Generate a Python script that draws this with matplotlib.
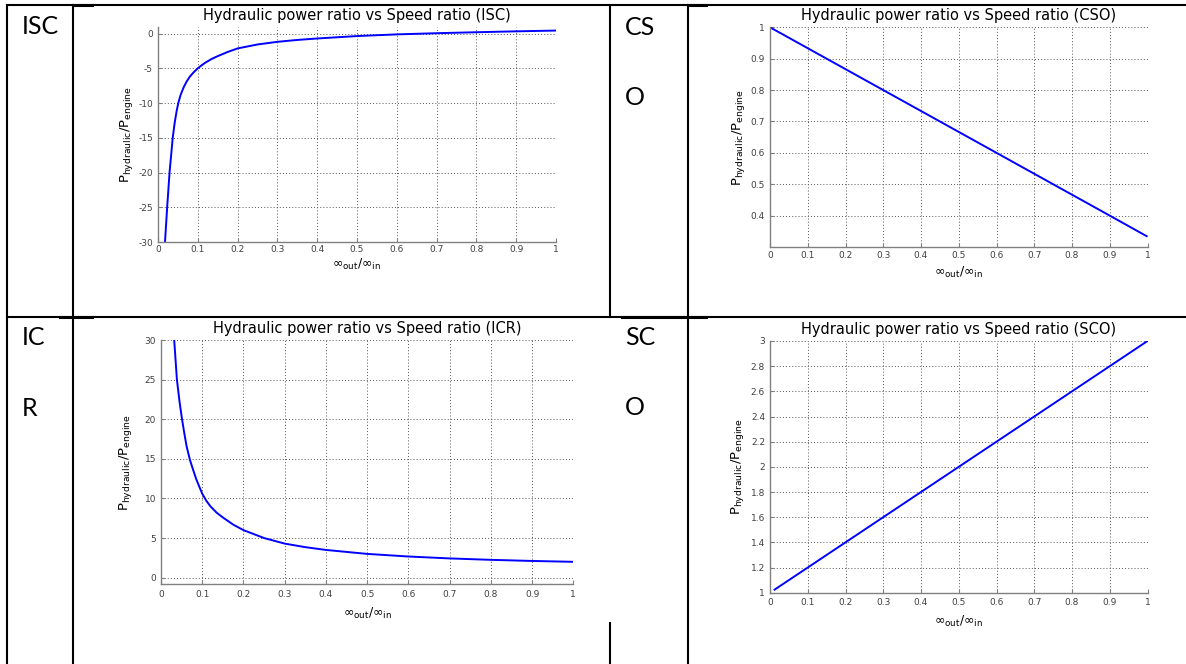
import numpy as np
import matplotlib.pyplot as plt
from matplotlib.lines import Line2D

plt.rcParams['axes.unicode_minus'] = False
plt.rcParams['mathtext.fontset'] = 'dejavusans'

W, H = 1186, 664

# Hydraulic power ratio curves, one per configuration
isc_x = [0.0176, 0.023, 0.029, 0.037, 0.042, 0.047, 0.051, 0.057, 0.064, 0.072, 0.08,
         0.09, 0.1, 0.11, 0.12, 0.135, 0.15, 0.175, 0.2, 0.25, 0.3, 0.35, 0.4,
         0.5, 0.6, 0.7, 0.8, 0.9, 1.0]
isc_y = [-30, -25, -20, -15, -12.8, -11.1, -10, -8.8, -7.8, -6.9, -6.2,
         -5.55, -5, -4.55, -4.15, -3.65, -3.25, -2.65, -2.14, -1.57, -1.19, -0.92, -0.71,
         -0.36, -0.12, 0.05, 0.19, 0.32, 0.43]

cso_x = [0.0, 0.3, 0.6, 0.9, 1.0]
cso_y = [1.0, 0.8, 0.6, 0.4, 0.333]

icr_x = [0.032, 0.0386, 0.045, 0.051, 0.056, 0.062, 0.07, 0.078, 0.085, 0.092, 0.1,
         0.11, 0.12, 0.135, 0.15, 0.175, 0.2, 0.25, 0.3, 0.35, 0.4,
         0.5, 0.6, 0.7, 0.8, 0.9, 1.0]
icr_y = [30, 25, 22.2, 20, 18.4, 16.6, 14.9, 13.6, 12.5, 11.6, 10.6,
         9.7, 9.0, 8.2, 7.6, 6.7, 6.0, 5.0, 4.3, 3.85, 3.5,
         3.0, 2.67, 2.43, 2.25, 2.11, 2.0]

sco_x = [0.01, 0.2, 0.5, 0.8, 1.0]
sco_y = [1.02, 1.4, 2.0, 2.6, 3.0]

# tick labels
x_ticks = [0, 0.1, 0.2, 0.3, 0.4, 0.5, 0.6, 0.7, 0.8, 0.9, 1]
x_tick_labels = ['0', '0.1', '0.2', '0.3', '0.4', '0.5', '0.6', '0.7', '0.8', '0.9', '1']
isc_ticks = [-30, -25, -20, -15, -10, -5, 0]
isc_labels = ['-30', '-25', '-20', '-15', '-10', '-5', '0']
cso_ticks = [0.4, 0.5, 0.6, 0.7, 0.8, 0.9, 1.0]
cso_labels = ['0.4', '0.5', '0.6', '0.7', '0.8', '0.9', '1']
icr_ticks = [0, 5, 10, 15, 20, 25, 30]
icr_labels = ['0', '5', '10', '15', '20', '25', '30']
sco_ticks = [1, 1.2, 1.4, 1.6, 1.8, 2, 2.2, 2.4, 2.6, 2.8, 3]
sco_labels = ['1', '1.2', '1.4', '1.6', '1.8', '2', '2.2', '2.4', '2.6', '2.8', '3']

cell_labels = ['ISC', 'CS', 'O', 'IC', 'R', 'SC', 'O']


def fx(px):
    return px / W


def fy(py):
    return 1 - py / H


def panel(fig, left, top, right, bottom, x, y, ylim, yticks, ylabels, tag,
          ylab_right, xlab_center, xpad):
    ax = fig.add_axes([fx(left), fy(bottom), fx(right - left), (bottom - top) / H])
    ax.plot(x, y, color='#0000ff', lw=1.4, solid_capstyle='butt')
    ax.set_xlim(0, 1)
    ax.set_ylim(*ylim)
    ax.set_xticks(x_ticks)
    ax.set_xticklabels(x_tick_labels)
    ax.set_yticks(yticks)
    ax.set_yticklabels(ylabels)
    ax.grid(True, linestyle=(0, (1, 2.2)), linewidth=0.7, color='#555555')
    for s in ('top', 'right'):
        ax.spines[s].set_visible(False)
    for s in ('left', 'bottom'):
        ax.spines[s].set_color('#808080')
        ax.spines[s].set_linewidth(1.0)
    ax.tick_params(direction='in', length=3, width=0.8, color='#808080',
                   labelsize=6.5, labelcolor='#404040')
    ax.tick_params(axis='x', pad=xpad)
    ax.tick_params(axis='y', pad=3.6)
    ax.set_title('Hydraulic power ratio vs Speed ratio (%s)' % tag,
                 fontsize=10.5, pad=5)
    ax.set_ylabel(r'$\mathregular{P_{hydraulic}/P_{engine}}$', fontsize=9.5)
    ax.yaxis.set_label_coords((ylab_right - left) / (right - left), 0.5)
    ax.set_xlabel(r'$\mathregular{\infty_{out}/\infty_{in}}$', fontsize=9)
    ax.xaxis.label.set_va('center')
    ax.xaxis.set_label_coords(0.5, -(xlab_center - bottom) / (bottom - top))
    return ax


fig = plt.figure(figsize=(W / 100, H / 100), dpi=100)

# table borders
rules = [
    ((7, 1186), (5, 5)),
    ((7, 1186), (316.5, 316.5)),
    ((7, 7), (5, 664)),
    ((72.5, 72.5), (5, 664)),
    ((610, 610), (5, 316.5)),
    ((610, 610), (623, 664)),
    ((687.7, 687.7), (5, 664)),
]
for xs, ys in rules:
    fig.add_artist(Line2D([fx(v) for v in xs], [fy(v) for v in ys],
                          color='black', lw=1.5, solid_capstyle='projecting'))
# heavier stubs next to the cell corners
for xs, ys in [((72.5, 92), (5, 5)), ((60, 92), (316.5, 316.5)),
               ((622, 706), (316.5, 316.5)), ((687.7, 706), (5, 5))]:
    fig.add_artist(Line2D([fx(v) for v in xs], [fy(v) for v in ys],
                          color='black', lw=2.2))

# row/column tags
tag_pos = [(22, 34), (625, 35), (625, 105), (22, 345), (22, 416), (625, 345), (625, 415)]
for txt, (px, py) in zip(cell_labels, tag_pos):
    fig.text(fx(px), fy(py), txt, fontsize=18, family='Lato', va='baseline', ha='left')

plt.rcParams['font.family'] = 'DejaVu Sans'

panel(fig, 158, 27.3, 556, 242, isc_x, isc_y, (-30, 0.9), isc_ticks, isc_labels,
      'ISC', 135, 264, 2.2)
panel(fig, 770, 27.3, 1147.5, 247, cso_x, cso_y, (0.3, 1.0), cso_ticks, cso_labels,
      'CSO', 747, 272, 3.0)
panel(fig, 161, 340, 573.3, 584, icr_x, icr_y, (-0.8, 30), icr_ticks, icr_labels,
      'ICR', 134, 613, 4.6)
panel(fig, 770, 341, 1147.5, 592.7, sco_x, sco_y, (1, 3), sco_ticks, sco_labels,
      'SCO', 746, 621.7, 3.6)

fig.savefig('out.png', dpi=100)
